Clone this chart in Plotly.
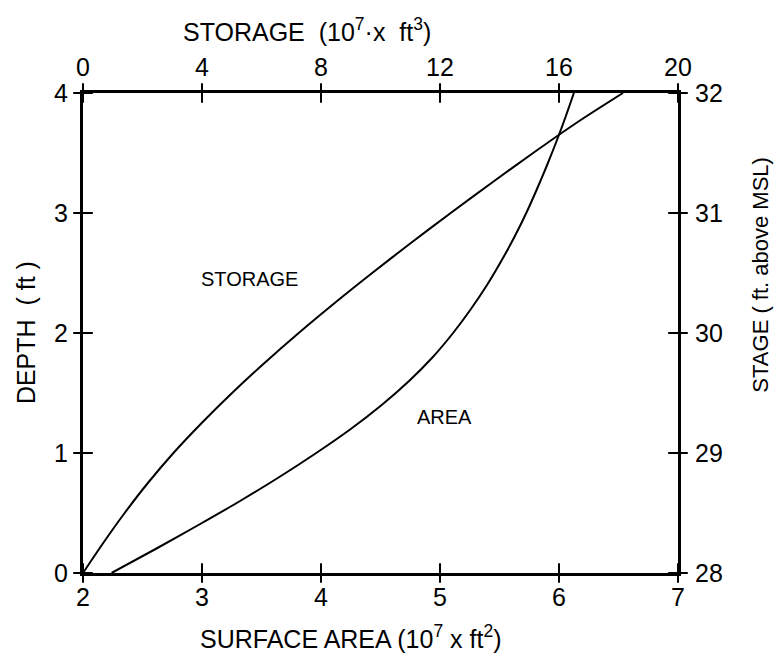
import plotly.graph_objects as go

# Storage curve (top axis, 10^7 ft^3) vs depth (ft)
storage_depth = [0.0, 0.25, 0.5, 0.75, 1.0, 1.25, 1.5, 1.75, 2.0, 2.25, 2.5, 2.75, 3.0, 3.25, 3.5, 3.75, 4.0]
storage_vals = [0.0, 0.68, 1.40, 2.18, 3.04, 3.99, 5.01, 6.10, 7.25, 8.46, 9.72, 11.02, 12.36, 13.73, 15.13, 16.58, 18.15]

# Surface area curve (bottom axis, 10^7 ft^2) vs depth (ft)
area_depth = [0.0, 0.2, 0.4, 0.6, 0.8, 1.0, 1.2, 1.4, 1.6, 1.8, 2.0, 2.2, 2.4, 2.6, 2.8, 3.0, 3.2, 3.4, 3.6, 3.8, 4.0]
area_vals = [2.24, 2.61, 2.97, 3.32, 3.65, 3.96, 4.25, 4.51, 4.74, 4.94, 5.11, 5.26, 5.395, 5.515, 5.625, 5.725, 5.815, 5.90, 5.98, 6.055, 6.125]

area_ticks = [2, 3, 4, 5, 6, 7]
storage_ticks = [0, 4, 8, 12, 16, 20]
depth_ticks = [0, 1, 2, 3, 4]
stage_ticks = [28, 29, 30, 31, 32]

FONT = "Liberation Sans"
TICK_SIZE = 25

fig = go.Figure()
fig.add_trace(go.Scatter(x=area_vals, y=area_depth, mode="lines",
                         line=dict(color="black", width=2, shape="spline", smoothing=0.8),
                         xaxis="x", yaxis="y", showlegend=False, hoverinfo="skip"))
fig.add_trace(go.Scatter(x=storage_vals, y=storage_depth, mode="lines",
                         line=dict(color="black", width=2, shape="spline", smoothing=0.8),
                         xaxis="x2", yaxis="y", showlegend=False, hoverinfo="skip"))

# crossing tick marks drawn at the tick values of each axis
tick_marker_v = dict(symbol="line-ns", size=14, line=dict(color="black", width=2))
tick_marker_h = dict(symbol="line-ew", size=14, line=dict(color="black", width=2))
fig.add_trace(go.Scatter(x=area_ticks, y=[depth_ticks[0]] * len(area_ticks), mode="markers",
                         marker=tick_marker_v, cliponaxis=False, xaxis="x", yaxis="y",
                         showlegend=False, hoverinfo="skip"))
fig.add_trace(go.Scatter(x=storage_ticks, y=[depth_ticks[-1]] * len(storage_ticks), mode="markers",
                         marker=tick_marker_v, cliponaxis=False, xaxis="x2", yaxis="y",
                         showlegend=False, hoverinfo="skip"))
fig.add_trace(go.Scatter(x=[area_ticks[0]] * len(depth_ticks), y=depth_ticks, mode="markers",
                         marker=tick_marker_h, cliponaxis=False, xaxis="x", yaxis="y",
                         showlegend=False, hoverinfo="skip"))
fig.add_trace(go.Scatter(x=[area_ticks[-1]] * len(stage_ticks), y=stage_ticks, mode="markers",
                         marker=tick_marker_h, cliponaxis=False, xaxis="x", yaxis="y2",
                         showlegend=False, hoverinfo="skip"))

def axis_common(standoff):
    return dict(showgrid=False, zeroline=False, showline=True, linecolor="black",
                linewidth=3, ticks="", ticklabelstandoff=standoff,
                tickfont=dict(family=FONT, size=TICK_SIZE, color="black"))

fig.update_layout(
    width=779, height=660,
    margin=dict(l=83, r=101, t=93, b=87),
    paper_bgcolor="white", plot_bgcolor="white",
    font=dict(family=FONT, color="black"),
    xaxis=dict(range=[area_ticks[0], area_ticks[-1]], tickvals=area_ticks,
               **axis_common(0)),
    xaxis2=dict(range=[storage_ticks[0], storage_ticks[-1]], tickvals=storage_ticks,
                overlaying="x", side="top", **axis_common(4)),
    yaxis=dict(range=[depth_ticks[0], depth_ticks[-1]], tickvals=depth_ticks,
               **axis_common(7)),
    yaxis2=dict(range=[stage_ticks[0], stage_ticks[-1]], tickvals=stage_ticks,
                overlaying="y", side="right", **axis_common(9)),
    annotations=[
        dict(x=0.376, y=1.131, xref="paper", yref="paper", xanchor="center", yanchor="middle",
             text="STORAGE  (10<sup>7</sup>·x  ft<sup>3</sup>)", showarrow=False,
             font=dict(family=FONT, size=25, color="black")),
        dict(x=0.451, y=-0.133, xref="paper", yref="paper", xanchor="center", yanchor="middle",
             text="SURFACE AREA (10<sup>7</sup> x ft<sup>2</sup>)", showarrow=False,
             font=dict(family=FONT, size=25, color="black")),
        dict(x=-0.0956, y=0.5, xref="paper", yref="paper", xanchor="center", yanchor="middle",
             text="DEPTH  ( ft )", showarrow=False, textangle=-90,
             font=dict(family=FONT, size=25, color="black")),
        dict(x=1.139, y=0.621, xref="paper", yref="paper", xanchor="center", yanchor="middle",
             text="STAGE ( ft. above MSL)", showarrow=False, textangle=-90,
             font=dict(family=FONT, size=22, color="black")),
        dict(x=3.4, y=2.45, xref="x", yref="y", text="STORAGE", showarrow=False,
             font=dict(family=FONT, size=20, color="black")),
        dict(x=5.04, y=1.3, xref="x", yref="y", text="AREA", showarrow=False,
             font=dict(family=FONT, size=20, color="black")),
    ],
)

fig.write_html("out.html")
